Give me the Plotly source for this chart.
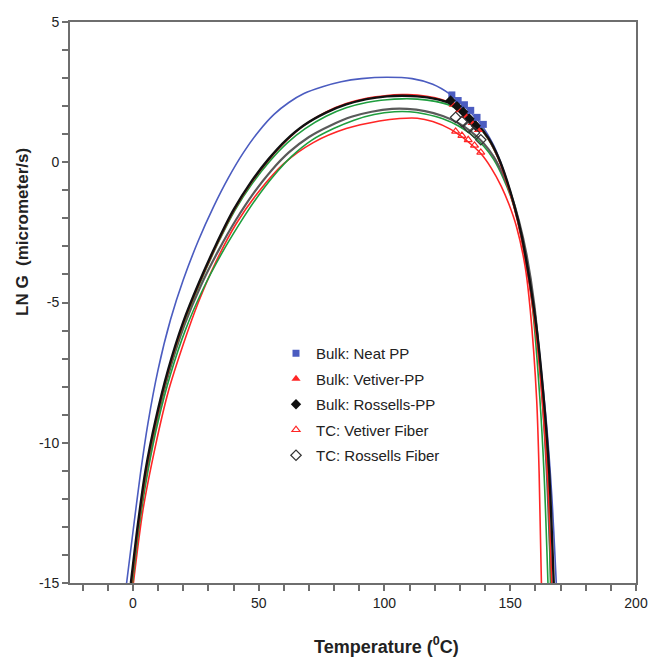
import plotly.graph_objects as go

# ---------------- data ----------------
# Fitted curves (Temperature in degC, LN G)
blue_T = [-2.5, 0, 3, 6, 10, 15, 20, 26, 32, 38, 44, 50, 56, 62, 68, 75.7, 82.8, 90.9, 101, 111, 119.2, 126.2, 132.3, 138.4, 143.4, 147.4, 150.5, 153.5, 156.5, 159.6, 162.1, 164.6, 166.6, 168.3]
blue_G = [-15, -13.2, -11.1, -9.3, -7.4, -5.6, -4.2, -2.8, -1.6, -0.55, 0.35, 1.1, 1.7, 2.13, 2.45, 2.7, 2.87, 2.98, 3.03, 2.98, 2.78, 2.42, 1.95, 1.35, 0.6, -0.3, -1.2, -2.2, -3.4, -5.2, -7.2, -9.5, -12.0, -15]

black_T = [-0.8, 2, 5, 9, 14, 20, 26, 33, 40, 47, 54, 61, 68, 76.8, 84.8, 92.9, 101, 107, 113.1, 120.2, 126.2, 131.3, 136.3, 141.4, 145.4, 148.5, 151.5, 154.5, 157.5, 160.6, 163.1, 165.4, 167.3]
black_G = [-15, -12.9, -11.0, -9.2, -7.4, -5.7, -4.35, -2.95, -1.7, -0.7, 0.12, 0.8, 1.32, 1.77, 2.06, 2.25, 2.35, 2.37, 2.35, 2.26, 2.1, 1.82, 1.42, 0.85, 0.15, -0.6, -1.5, -2.6, -4.1, -6.0, -8.2, -10.9, -15]

redup_T = [-0.5, 2.3, 5.3, 9.3, 14.3, 20.3, 26.3, 33.3, 40.3, 47.3, 54.3, 61.3, 68.3, 76.8, 84.8, 92.9, 101, 107, 113.1, 120.2, 126.2, 131.3, 136.3, 141.4, 145.4, 148.5, 151.5, 154.5, 157.5, 160.6, 163.0, 165.0, 166.5]
redup_G = [-15, -12.9, -11.0, -9.2, -7.4, -5.7, -4.35, -2.95, -1.7, -0.7, 0.12, 0.8, 1.33, 1.79, 2.09, 2.28, 2.38, 2.41, 2.4, 2.3, 2.12, 1.83, 1.42, 0.82, 0.1, -0.7, -1.6, -2.75, -4.3, -6.4, -8.8, -11.5, -15]

greenup_T = [-0.3, 2.5, 5.5, 9.5, 14.5, 20.5, 26.5, 33.5, 40.5, 47.5, 54.5, 61.5, 68.5, 76.8, 84.8, 92.9, 101, 107, 113.1, 120.2, 126.2, 131.3, 136.3, 141.4, 145.4, 148.5, 151.5, 154.5, 157.5, 160.6, 163.0, 165.0, 166.0]
greenup_G = [-15, -12.9, -11.0, -9.2, -7.4, -5.7, -4.35, -2.95, -1.72, -0.75, 0.05, 0.7, 1.2, 1.64, 1.94, 2.13, 2.23, 2.26, 2.25, 2.17, 2.02, 1.76, 1.38, 0.8, 0.1, -0.65, -1.55, -2.7, -4.2, -6.2, -8.5, -11.2, -15]

gray_T = [-0.5, 2.3, 5.5, 9.5, 14.5, 20.5, 27, 34, 41, 48, 55, 62, 70, 78.8, 86.9, 94.9, 103, 109, 116.1, 123.2, 129.3, 134.3, 139.4, 143.4, 147.4, 150.5, 153.5, 156.5, 159.6, 162.4, 164.4, 166.3]
gray_G = [-15, -12.9, -11.0, -9.2, -7.45, -5.8, -4.4, -3.15, -2.05, -1.1, -0.3, 0.35, 0.9, 1.32, 1.62, 1.8, 1.9, 1.9, 1.82, 1.65, 1.4, 1.1, 0.68, 0.2, -0.5, -1.2, -2.1, -3.3, -5.1, -7.9, -10.8, -15]

greenlo_T = [-0.2, 2.6, 6, 10, 15, 21, 28, 35, 42, 49, 56, 63, 71, 79.8, 87.9, 95.9, 104, 110, 116.1, 123.2, 129.3, 134.3, 139.4, 143.4, 147.4, 150.5, 153.5, 156.5, 159.0, 161.8, 163.5, 165.0]
greenlo_G = [-15, -12.9, -11.0, -9.25, -7.55, -5.95, -4.5, -3.3, -2.25, -1.3, -0.48, 0.2, 0.78, 1.2, 1.5, 1.7, 1.8, 1.8, 1.72, 1.55, 1.3, 1.0, 0.58, 0.1, -0.6, -1.3, -2.2, -3.5, -5.3, -8.45, -11.2, -15]

redlo_T = [0.2, 4, 9, 14, 20, 26, 33, 41, 50, 60, 71.7, 84.8, 98, 106, 113.1, 119.2, 126.2, 130.3, 134.3, 138.4, 142.4, 146.4, 149.5, 152.5, 155.9, 158.0, 160.5, 161.5, 162.4]
redlo_G = [-15, -12.4, -10.1, -8.2, -6.5, -5.0, -3.55, -2.2, -1.05, -0.05, 0.7, 1.2, 1.47, 1.56, 1.57, 1.45, 1.18, 0.94, 0.65, 0.3, -0.2, -0.85, -1.5, -2.3, -3.7, -5.3, -8.45, -11.1, -15]

# Measured points (legend series)
neat_T = [126.8, 129.3, 131.8, 134.3, 136.8, 139.3]
neat_G = [2.4, 2.2, 2.05, 1.85, 1.6, 1.35]
vetpp_T = [127.3, 129.8, 132.3, 134.8, 137.3]
vetpp_G = [2.05, 1.85, 1.65, 1.4, 1.15]
rospp_T = [126.3, 128.8, 131.3, 133.8, 136.3]
rospp_G = [2.2, 2.0, 1.8, 1.55, 1.3]
tcvet_T = [128.3, 130.8, 133.3, 135.8, 138.3]
tcvet_G = [1.1, 0.95, 0.8, 0.6, 0.35]
tcros_T = [128.3, 130.8, 133.3, 135.8, 138.3]
tcros_G = [1.6, 1.45, 1.25, 1.05, 0.8]

# Axis ticks: labelled values and tick spacing
x_ticks = [0, 50, 100, 150, 200]
x_ticklabels = ["0", "50", "100", "150", "200"]
x_tick_step = 10
y_ticks = [-15, -10, -5, 0, 5]
y_ticklabels = ["-15", "-10", "-5", "0", "5"]
y_tick_step = 1
x_range = [-25, 200]
y_range = [-15, 5]

# ---------------- figure ----------------
BLUE = "#4b5cc0"
RED = "#ff2626"
GREEN = "#1e9e3e"
BLACK = "#111111"
GRAY = "#5a5a5a"
AX = "#6e6e6e"
FONT = "Liberation Sans, Arial, sans-serif"

fig = go.Figure()

def curve(T, G, color, width):
    fig.add_trace(go.Scatter(x=T, y=G, mode="lines", showlegend=False, hoverinfo="skip",
                             line=dict(color=color, width=width, shape="spline", smoothing=0.8)))

curve(blue_T, blue_G, BLUE, 1.6)
curve(redlo_T, redlo_G, RED, 1.6)
curve(greenlo_T, greenlo_G, GREEN, 1.6)
curve(gray_T, gray_G, GRAY, 2.2)
curve(greenup_T, greenup_G, GREEN, 1.6)
curve(redup_T, redup_G, RED, 1.6)
curve(black_T, black_G, BLACK, 2.4)

def pts(T, G, name, symbol, color, size, lw=0, gi=0):
    fig.add_trace(go.Scatter(x=T, y=G, mode="markers", name=name, legendgroup=f"g{gi}",
                             marker=dict(symbol=symbol, size=size, color=color,
                                         line=dict(width=lw, color=color))))

pts(neat_T, neat_G, "Bulk: Neat PP", "square", BLUE, 7, gi=1)
pts(vetpp_T, vetpp_G, "Bulk: Vetiver-PP", "triangle-up", RED, 8, gi=2)
pts(rospp_T, rospp_G, "Bulk: Rossells-PP", "diamond", BLACK, 8, gi=3)
pts(tcvet_T, tcvet_G, "TC: Vetiver Fiber", "triangle-up-open", RED, 7, lw=1.2, gi=4)
pts(tcros_T, tcros_G, "TC: Rossells Fiber", "diamond-open", "#333333", 8, lw=1.2, gi=5)

def all_ticks(rng, step, labelled, labels):
    vals, texts = [], []
    v = step * int(rng[0] / step)
    while v <= rng[1] + 1e-9:
        if v >= rng[0] - 1e-9:
            vals.append(v)
            texts.append(labels[labelled.index(v)] if v in labelled else " ")
        v += step
    return vals, texts

xv, xt = all_ticks(x_range, x_tick_step, x_ticks, x_ticklabels)
yv, yt = all_ticks(y_range, y_tick_step, y_ticks, y_ticklabels)

axis_common = dict(showline=True, linecolor=AX, linewidth=2, mirror=True,
                   ticks="outside", ticklen=6, tickwidth=2, tickcolor=AX,
                   showgrid=False, zeroline=False, tickmode="array",
                   tickfont=dict(family=FONT, size=14, color="#222222"))

fig.update_xaxes(range=x_range, tickvals=xv, ticktext=xt, **axis_common)
fig.update_yaxes(range=y_range, tickvals=yv, ticktext=yt, **axis_common)

L, R, T_, B = 70, 18, 22, 79
PW = 654 - L - R
PH = 662 - T_ - B

fig.add_annotation(text="<b>LN G  (micrometer/s)</b>", xref="paper", yref="paper",
                   x=(22 - L) / PW, y=(662 - B - 232) / PH, textangle=-90, showarrow=False,
                   font=dict(family=FONT, size=17, color="#222222"),
                   xanchor="center", yanchor="middle")
fig.add_annotation(text="<b>Temperature (<sup>0</sup>C)</b>", xref="paper", yref="paper",
                   x=(386 - L) / PW, y=-(645 - (662 - B)) / PH, showarrow=False,
                   font=dict(family=FONT, size=18, color="#222222"),
                   xanchor="center", yanchor="middle")

fig.update_layout(
    width=654, height=662,
    margin=dict(l=L, r=R, t=T_, b=B, autoexpand=False),
    paper_bgcolor="white", plot_bgcolor="white",
    legend=dict(x=(276 - L) / PW, y=(662 - B - 337) / PH, xanchor="left", yanchor="top",
                bgcolor="rgba(0,0,0,0)", tracegroupgap=3, traceorder="grouped",
                font=dict(family=FONT, size=15, color="#222222")),
)

fig.write_html("out.html")
